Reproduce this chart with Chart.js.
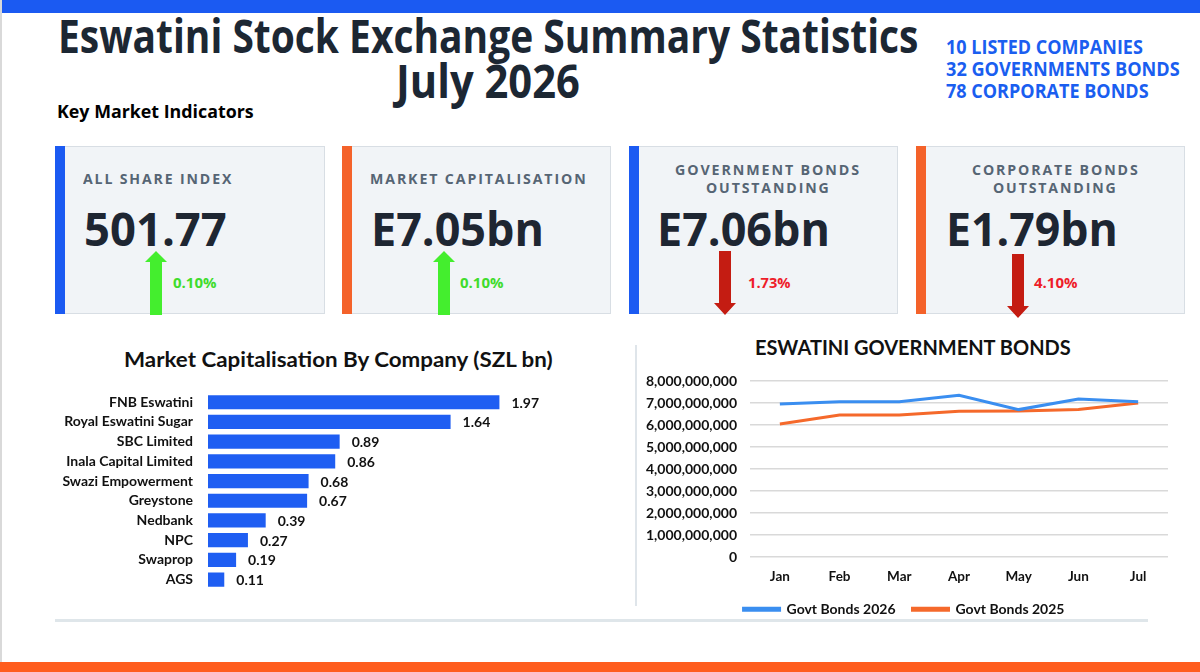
<!DOCTYPE html>
<html>
<head>
<meta charset="utf-8">
<script src="https://cdn.jsdelivr.net/npm/chart.js@4.4.1/dist/chart.umd.min.js"></script>
<style>
  body { margin: 0; width: 1200px; height: 672px; position: relative; overflow: hidden; background: #fff; font-family: "Open Sans", sans-serif; }
  .t { position: absolute; white-space: nowrap; line-height: 1; display: inline-block; transform-origin: 0 0; font-weight: 700; }
  .card { position: absolute; top: 146px; height: 168px; background: #f1f4f7; border: 1px solid #d8dee4; box-sizing: border-box; }
  .card .acc { position: absolute; left: -1px; top: -1px; bottom: -1px; width: 10px; }
  .lbl { font-size: 15px; color: #566574; letter-spacing: 2px; }
  .val { font-size: 47px; color: #1e2632; }
  .up { font-size: 15px; color: #3fdc2c; }
  .down { font-size: 15px; color: #ee1d2a; }
  .ctitle { font-family: Lato, sans-serif; color: #111; }
  svg { position: absolute; }
</style>
</head>
<body>
<div style="position:absolute;left:0;top:0;width:2px;height:672px;background:#d9d9d9"></div>
<div style="position:absolute;left:2px;top:0;right:0;height:13px;background:#1b5af2"></div>
<div style="position:absolute;left:0;top:662px;right:0;height:10px;background:#ff5d1e"></div>

<div class="t" data-w="860" style="left:58px;top:12px;font-size:46px;color:#1c2733">Eswatini Stock Exchange Summary Statistics</div>
<div class="t" data-w="184" style="left:396px;top:57px;font-size:46px;color:#1c2733">July 2026</div>
<div class="t" data-w="197" style="left:946px;top:38px;font-size:19px;color:#1a5ef0">10 LISTED COMPANIES</div>
<div class="t" data-w="234" style="left:946px;top:60px;font-size:19px;color:#1a5ef0">32 GOVERNMENTS BONDS</div>
<div class="t" data-w="203" style="left:946px;top:82px;font-size:19px;color:#1a5ef0">78 CORPORATE BONDS</div>
<div class="t" data-w="197" style="left:57px;top:102px;font-size:18px;color:#000">Key Market Indicators</div>

<div class="card" style="left:55px;width:270px"><div class="acc" style="background:#1b5af2"></div></div>
<div class="card" style="left:342px;width:269px"><div class="acc" style="background:#f4622a"></div></div>
<div class="card" style="left:629px;width:269px"><div class="acc" style="background:#1b5af2"></div></div>
<div class="card" style="left:916px;width:269px"><div class="acc" style="background:#f4622a"></div></div>

<div class="t lbl" data-w="150" style="left:83px;top:171px">ALL SHARE INDEX</div>
<div class="t lbl" data-w="218" style="left:370px;top:171px">MARKET CAPITALISATION</div>
<div class="t lbl" data-w="186" style="left:675px;top:162px">GOVERNMENT BONDS</div>
<div class="t lbl" data-w="125" style="left:706px;top:180px">OUTSTANDING</div>
<div class="t lbl" data-w="168" style="left:972px;top:162px">CORPORATE BONDS</div>
<div class="t lbl" data-w="125" style="left:993px;top:180px">OUTSTANDING</div>

<div class="t val" data-w="143" style="left:84px;top:205px">501.77</div>
<div class="t val" data-w="173" style="left:371px;top:205px">E7.05bn</div>
<div class="t val" data-w="173" style="left:657px;top:205px">E7.06bn</div>
<div class="t val" data-w="172" style="left:946px;top:205px">E1.79bn</div>

<svg style="left:145px;top:251px" width="22" height="64"><polygon points="11,0 22,11 17,11 17,64 5,64 5,11 0,11" fill="#44ee2e"/></svg>
<svg style="left:433px;top:251px" width="22" height="64"><polygon points="11,0 22,11 17,11 17,64 5,64 5,11 0,11" fill="#44ee2e"/></svg>
<svg style="left:714px;top:251px" width="22" height="64"><polygon points="5,0 17,0 17,52 22,52 11,64 0,52 5,52" fill="#c41c12"/></svg>
<svg style="left:1007px;top:254px" width="22" height="64"><polygon points="5,0 17,0 17,52 22,52 11,64 0,52 5,52" fill="#c41c12"/></svg>

<div class="t up" data-w="44" style="left:173px;top:275px">0.10%</div>
<div class="t up" data-w="44" style="left:460px;top:275px">0.10%</div>
<div class="t down" data-w="43" style="left:748px;top:275px">1.73%</div>
<div class="t down" data-w="44" style="left:1034px;top:275px">4.10%</div>

<div class="t ctitle" data-w="429" style="left:124px;top:349px;font-size:20px">Market Capitalisation By Company (SZL bn)</div>
<div class="t ctitle" data-w="316" style="left:755px;top:336px;font-size:21px">ESWATINI GOVERNMENT BONDS</div>

<div style="position:absolute;left:635px;top:345px;width:2px;height:261px;background:#dfe5ea"></div>
<div style="position:absolute;left:55px;top:619px;width:1093px;height:3px;background:#dfe6ea"></div>

<div style="position:absolute;left:48px;top:383.6px;width:552px;height:213.8px"><canvas id="capChart"></canvas></div>
<div style="position:absolute;left:640px;top:366px;width:540px;height:249.2px"><canvas id="bondChart"></canvas></div>

<script>
const companies = ['FNB Eswatini', 'Royal Eswatini Sugar', 'SBC Limited', 'Inala Capital Limited', 'Swazi Empowerment', 'Greystone', 'Nedbank', 'NPC', 'Swaprop', 'AGS'];
const marketCap = [1.97, 1.64, 0.89, 0.86, 0.68, 0.67, 0.39, 0.27, 0.19, 0.11];

const months = ['Jan', 'Feb', 'Mar', 'Apr', 'May', 'Jun', 'Jul'];
const govBonds2026 = [6.96e9, 7.06e9, 7.06e9, 7.35e9, 6.70e9, 7.18e9, 7.06e9];
const govBonds2025 = [6.05e9, 6.45e9, 6.45e9, 6.63e9, 6.64e9, 6.70e9, 7.00e9];

// squeeze each text to the width it has in the picture
document.querySelectorAll('[data-w]').forEach(el => {
    el.style.transform = 'scaleX(' + (+el.dataset.w / el.offsetWidth) + ')';
});

Chart.defaults.font.family = 'Lato, sans-serif';
Chart.defaults.font.weight = 'bold';
Chart.defaults.color = '#111';
Chart.defaults.animation = false;

// value labels at the end of each bar
const barValues = {
    id: 'barValues',
    afterDatasetsDraw(chart) {
        const ctx = chart.ctx;
        ctx.save();
        ctx.font = 'bold 14px Lato, sans-serif';
        ctx.fillStyle = '#111';
        ctx.textBaseline = 'middle';
        chart.getDatasetMeta(0).data.forEach((bar, i) => {
            ctx.fillText(marketCap[i].toFixed(2), bar.x + 12, bar.y + 1);
        });
        ctx.restore();
    }
};

new Chart(document.getElementById('capChart'), {
    type: 'bar',
    data: {
        labels: companies,
        datasets: [{ data: marketCap, backgroundColor: '#1f5ef2', categoryPercentage: 0.72, barPercentage: 1 }]
    },
    options: {
        indexAxis: 'y', responsive: true, maintainAspectRatio: false,
        plugins: { legend: { display: false }, tooltip: { enabled: false } },
        scales: {
            x: { display: false, min: 0, max: 2.65 },
            y: {
                grid: { drawOnChartArea: false, drawTicks: true, tickLength: 15, tickColor: 'transparent' },
                border: { display: false },
                ticks: { padding: 0, autoSkip: false, font: { size: 14 } },
                afterFit(scale) { scale.width = 160; }
            }
        }
    },
    plugins: [barValues]
});

new Chart(document.getElementById('bondChart'), {
    type: 'line',
    data: {
        labels: months,
        datasets: [
            { label: 'Govt Bonds 2026', data: govBonds2026, borderColor: '#3a8ef0', backgroundColor: '#3a8ef0', borderWidth: 3, pointRadius: 0, tension: 0 },
            { label: 'Govt Bonds 2025', data: govBonds2025, borderColor: '#f5692b', backgroundColor: '#f5692b', borderWidth: 3, pointRadius: 0, tension: 0 }
        ]
    },
    options: {
        responsive: true, maintainAspectRatio: false,
        layout: { padding: { top: 15, right: 12 } },
        plugins: {
            tooltip: { enabled: false },
            legend: { position: 'bottom', maxHeight: 30, labels: { boxWidth: 36, boxHeight: 2, padding: 17, font: { size: 14 } } }
        },
        scales: {
            x: {
                offset: true, grid: { display: false, drawTicks: true, tickLength: 12, tickColor: 'transparent' },
                border: { display: false },
                ticks: { padding: 0, font: { size: 13.5 } }
            },
            y: {
                min: 0, max: 8e9,
                grid: { color: '#d9d9d9', lineWidth: 1.5, drawTicks: true, tickLength: 13, tickColor: 'transparent' },
                border: { display: false },
                ticks: { stepSize: 1e9, padding: 0, font: { size: 14 }, callback: v => v.toLocaleString('en-US') },
                afterFit(scale) { scale.width = 110; }
            }
        }
    }
});
</script>
</body>
</html>
